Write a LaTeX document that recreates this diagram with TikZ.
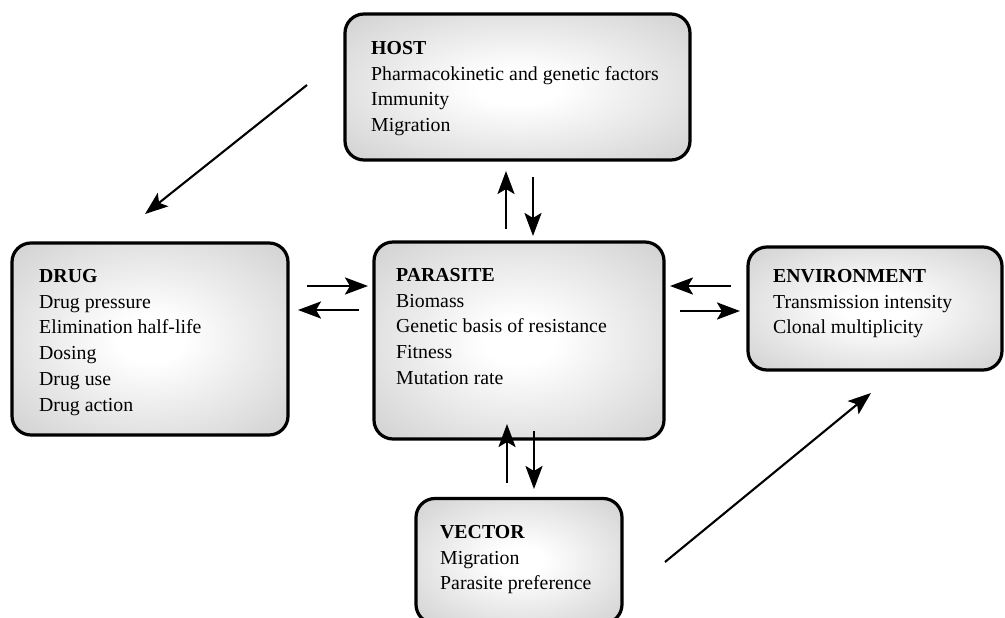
\documentclass[tikz,border=0pt]{standalone}
\usepackage{fontspec}
\setmainfont{Liberation Serif}
\usetikzlibrary{arrows.meta}
\pgfdeclareradialshading{boxshade}{\pgfpointorigin}{%
  color(0bp)=(white); color(6bp)=(white); color(50bp)=(black!27)}
\tikzset{
  box/.style args={#1:#2}{
    draw = black, line width = 3.2pt, rounded corners = 19pt,
    shading = boxshade,
    minimum width = #1, minimum height = #2
  },
  txt/.style = {anchor = north west, inner sep = 0pt, align = left,
    font = \fontsize{19.8}{25.8}\selectfont},
  arr/.style = {line width = 2.6pt, -{Stealth[length = 23pt, width = 17pt, inset = 5pt]}},
  diag/.style = {line width = 2.1pt, -{Stealth[length = 23pt, width = 17pt, inset = 5pt]}}
}

\begin{document}
\begin{tikzpicture}[x = 1pt, y = -1pt]

			\useasboundingbox (0, 0) rectangle (1005, 618);

			% boxes
			\node[box = 345pt:146pt] (host) at (517.5, 87) {};
			\node[box = 276pt:192pt] (drug) at (150, 339) {};
			\node[box = 290pt:197pt] (parasite) at (519, 340.5) {};
			\node[box = 254pt:123pt] (env) at (875, 308.5) {};
			\node[box = 206pt:125pt] (vector) at (519, 561) {};

			% texts
			\node[txt] (hosttxt) at (371, 41) {\textbf{HOST}\\Pharmacokinetic and genetic factors\\Immunity\\Migration};
			\node[txt] (drugtxt) at (39, 269) {\textbf{DRUG}\\Drug pressure\\Elimination half-life\\Dosing\\Drug use\\Drug action};
			\node[txt] (paratxt) at (396, 268) {\textbf{PARASITE}\\Biomass\\Genetic basis of resistance\\Fitness\\Mutation rate};
			\node[txt] (envtxt) at (773, 269) {\textbf{ENVIRONMENT}\\Transmission intensity\\Clonal multiplicity};
			\node[txt] (vectxt) at (440, 525) {\textbf{VECTOR}\\Migration\\Parasite preference};

			% arrow ends
			\coordinate (h1) at (506, 229); \coordinate (h2) at (506, 171);
			\coordinate (h3) at (533, 177); \coordinate (h4) at (533, 236);
			\coordinate (v1) at (507, 483); \coordinate (v2) at (507, 424);
			\coordinate (v3) at (534, 431); \coordinate (v4) at (534, 489);
			\coordinate (d1) at (307, 286); \coordinate (d2) at (368, 286);
			\coordinate (d3) at (359, 310); \coordinate (d4) at (298, 310);
			\coordinate (e1) at (731, 286); \coordinate (e2) at (670, 286);
			\coordinate (e3) at (680, 311); \coordinate (e4) at (740, 311);
			\coordinate (t1) at (307, 85); \coordinate (t2) at (145, 214);
			\coordinate (b1) at (665, 562); \coordinate (b2) at (871, 393);

			\draw[arr] (h1) -- (h2); % to host
			\draw[arr] (h3) -- (h4); % to parasite
			\draw[arr] (v1) -- (v2);
			\draw[arr] (v3) -- (v4);
			\draw[arr] (d1) -- (d2);
			\draw[arr] (d3) -- (d4);
			\draw[arr] (e1) -- (e2);
			\draw[arr] (e3) -- (e4);
			\draw[diag] (t1) -- (t2); % host to drug
			\draw[diag] (b1) -- (b2); % vector to environment

		\end{tikzpicture}
\end{document}
